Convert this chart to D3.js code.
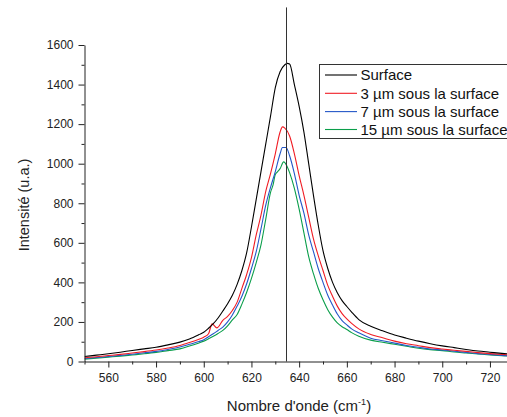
<!DOCTYPE html>
<html>
<head>
<meta charset="utf-8">
<script src="https://cdn.jsdelivr.net/npm/d3@7"></script>
<style>
  html, body { margin: 0; padding: 0; background: #fff; }
  svg { display: block; font-family: "Liberation Sans", Arial, sans-serif; }
</style>
</head>
<body>
<svg id="chart" width="507" height="417"></svg>
<script>
// ---- data ----
const surfaceX = [550,555,560,565,570,575,580,585,590,594,598,600,602,604,606,608,610,612,614,616,618,620,622,624,626,628,630,632,634,635,636,638,640,642,644,646,648,650,652,654,656,658,660,662,665,670,675,680,685,690,695,700,705,710,715,720,725,730];
const surfaceY = [25,32,39,47,56,64,72,84,98,114,136,148,168,191,220,255,292,335,390,460,550,680,820,960,1100,1240,1385,1465,1500,1507,1504,1400,1290,1160,1000,840,690,560,470,400,348,308,278,250,212,178,155,134,118,103,90,79,70,61,53,47,41,36];

const um3X = [550,555,560,565,570,575,580,585,590,594,598,600,602,603.5,605.5,608,610,612,614,616,618,620,622,624,626,628,630,632,633,634,636,638,640,642,644,646,648,650,652,654,656,658,660,662,665,670,675,680,685,690,695,700,705,710,715,720,725,730];
const um3Y = [19,24,30,36,43,50,58,68,81,96,113,123,140,190,170,208,228,258,300,370,440,525,640,740,860,950,1050,1160,1186,1180,1140,1050,940,840,730,620,535,460,385,330,280,242,215,193,165,137,120,103,90,80,70,63,57,51,45,40,36,32];

const um7X = [550,555,560,565,570,575,580,585,590,594,598,600,602,604,606,608,610,612,614,616,618,620,622,624,626,628,630,632,633,634.5,636,638,640,642,644,646,648,650,652,654,656,658,660,662,665,670,675,680,685,690,695,700,705,710,715,720,725,730];
const um7Y = [15,20,25,31,37,44,51,61,73,87,101,110,125,140,157,174,200,235,280,330,393,470,555,670,790,880,960,1050,1082,1082,1040,950,840,750,640,555,470,400,335,285,240,207,185,165,145,118,105,93,81,72,63,58,52,46,40,36,31,28];

const um15X = [550,555,560,565,570,575,580,585,590,594,598,600,602,604,606,608,610,612,614,616,618,620,622,624,626,628,629,630,631,632,633.5,635,636,638,640,642,644,646,648,650,652,654,656,658,660,662,665,670,675,680,685,690,695,700,705,710,715,720,725,730];
const um15Y = [12,17,22,27,33,39,46,55,64,78,94,103,115,128,142,157,180,210,238,290,350,420,500,590,720,855,890,945,960,975,1009,985,955,875,770,650,530,444,370,312,262,224,195,176,162,146,128,108,97,87,77,67,60,55,48,43,38,33,29,26];

const seriesNames = ["Surface", "3 µm sous la surface", "7 µm sous la surface", "15 µm sous la surface"];
const seriesColors = ["#000000", "#f01c24", "#2457c8", "#0a9e4a"];
const markerX = [634.5];
const markerTop = 1790;

const xTicks = [560,580,600,620,640,660,680,700,720];
const xMinor = [550,570,590,610,630,650,670,690,710,730];
const yTicks = [0,200,400,600,800,1000,1200,1400,1600];
const yMinor = [100,300,500,700,900,1100,1300,1500];

const xTitle = "Nombre d'onde (cm";
const xTitleSup = "-1";
const yTitle = "Intensité (u.a.)";

// ---- drawing ----
const svg = d3.select("#chart");
const x = d3.scaleLinear().domain([550, 730]).range([84.5, 513.8]);
const y = d3.scaleLinear().domain([0, 1600]).range([361.5, 45]);

const axisColor = "#222";

svg.append("defs").append("clipPath").attr("id", "clip")
  .append("rect").attr("x", 84.5).attr("y", 0).attr("width", 430).attr("height", 362);

const series = [
  {name: seriesNames[0], xs: surfaceX, ys: surfaceY, color: seriesColors[0]},
  {name: seriesNames[1], xs: um3X, ys: um3Y, color: seriesColors[1]},
  {name: seriesNames[2], xs: um7X, ys: um7Y, color: seriesColors[2]},
  {name: seriesNames[3], xs: um15X, ys: um15Y, color: seriesColors[3]}
];

const line = d3.line().curve(d3.curveMonotoneX).x(d => x(d[0])).y(d => y(d[1]));

const plot = svg.append("g").attr("clip-path", "url(#clip)");
series.slice().reverse().forEach(s => {
  const pts = s.xs.map((v, i) => [v, s.ys[i]]);
  plot.append("path")
    .datum(pts)
    .attr("d", line)
    .attr("fill", "none")
    .attr("stroke", s.color)
    .attr("stroke-width", 1.1)
    .attr("stroke-linejoin", "round");
});

svg.selectAll(".marker").data(markerX).enter().append("line")
  .attr("x1", d => Math.round(x(d)) + 0.5).attr("x2", d => Math.round(x(d)) + 0.5)
  .attr("y1", y(markerTop)).attr("y2", y(0))
  .attr("stroke", "#333").attr("stroke-width", 1);

function styleAxis(g) {
  g.selectAll("path.domain").attr("stroke", axisColor).attr("stroke-width", 1);
  g.selectAll(".tick line").attr("stroke", axisColor).attr("stroke-width", 1);
  g.selectAll(".tick text").attr("fill", "#222").style("font-size", "12px")
    .style("font-family", "'Liberation Sans', Arial, sans-serif");
}

const fmt = d3.format("d");
const yAxis = svg.append("g").attr("transform", "translate(84.5,0)")
  .call(d3.axisLeft(y).tickValues(yTicks).tickFormat(fmt).tickSize(6).tickSizeOuter(0).tickPadding(5));
styleAxis(yAxis);
const yAxisMinor = svg.append("g").attr("transform", "translate(84.5,0)")
  .call(d3.axisLeft(y).tickValues(yMinor).tickSize(3).tickFormat(""));
yAxisMinor.select("path.domain").remove();
styleAxis(yAxisMinor);

const xAxis = svg.append("g").attr("transform", "translate(0,361.5)")
  .call(d3.axisBottom(x).tickValues(xTicks).tickFormat(fmt).tickSize(6).tickSizeOuter(0).tickPadding(6));
styleAxis(xAxis);
const xAxisMinor = svg.append("g").attr("transform", "translate(0,361.5)")
  .call(d3.axisBottom(x).tickValues(xMinor).tickSize(3).tickFormat(""));
xAxisMinor.select("path.domain").remove();
styleAxis(xAxisMinor);

const xt = svg.append("text")
  .attr("x", 299).attr("y", 410.5)
  .attr("text-anchor", "middle")
  .style("font-size", "15px").attr("fill", "#222");
xt.append("tspan").text(xTitle);
xt.append("tspan").text(xTitleSup).attr("dy", -6).style("font-size", "9px");
xt.append("tspan").text(")").attr("dy", 6);

svg.append("text")
  .attr("transform", "translate(28.5,205) rotate(-90)")
  .attr("text-anchor", "middle")
  .style("font-size", "14.5px").attr("fill", "#222")
  .text(yTitle);

const lg = svg.append("g");
lg.append("rect").attr("x", 319.5).attr("y", 64.5).attr("width", 200).attr("height", 74)
  .attr("fill", "#fff").attr("stroke", "#333").attr("stroke-width", 1);
const rowY = [75, 93.3, 111.6, 129.5];
series.forEach((s, i) => {
  lg.append("line").attr("x1", 325).attr("x2", 357)
    .attr("y1", rowY[i]).attr("y2", rowY[i])
    .attr("stroke", s.color).attr("stroke-width", 1.1);
  lg.append("text").attr("x", 360.5).attr("y", rowY[i] + 5.2)
    .style("font-size", "15px").attr("fill", "#111").text(s.name);
});
</script>
</body>
</html>
